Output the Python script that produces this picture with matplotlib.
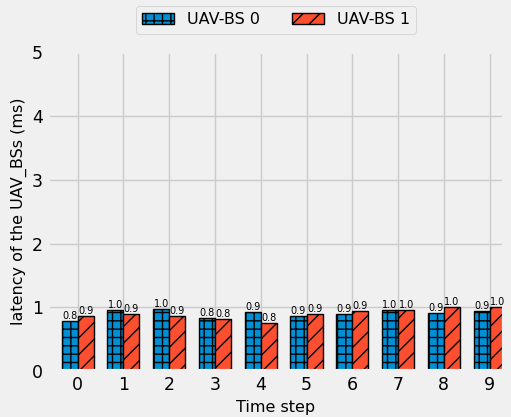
import numpy as np
import matplotlib
matplotlib.use('Agg')
import matplotlib.pyplot as plt

# SET PLOT STYLE
plt.style.use('fivethirtyeight')

# DATA
steps = np.arange(10)
tick_labels = [str(s) for s in steps]
uav0 = [0.79, 0.96, 0.98, 0.83, 0.92, 0.87, 0.89, 0.96, 0.91, 0.94]
uav1 = [0.86, 0.90, 0.87, 0.82, 0.75, 0.90, 0.94, 0.96, 1.01, 1.01]
names = ['UAV-BS 0', 'UAV-BS 1']

w = 0.35
fig = plt.figure(figsize=(5.11, 4.17), dpi=100)
ax = fig.add_axes([0.094, 0.110, 0.892, 0.765])

b0 = ax.bar(steps - w/2, uav0, w, color='#008fd5', edgecolor='black',
            hatch='++', linewidth=1, label=names[0])
b1 = ax.bar(steps + w/2, uav1, w, color='#fc4f30', edgecolor='black',
            hatch='//', linewidth=1, label=names[1])

for bars in (b0, b1):
    for r in bars:
        h = r.get_height()
        ax.text(r.get_x() + r.get_width()/2, h, '%.1f' % h,
                ha='center', va='bottom', fontsize=7)

ax.set_xticks(steps)
ax.set_xticklabels(tick_labels, fontsize=12.5)
ax.tick_params(axis='y', labelsize=12.5)
ax.set_xlim(-0.645, 9.31)
ax.set_ylim(0, 5)
ax.set_xlabel('Time step', fontsize=11.5)
ax.set_ylabel('latency of the UAV_BSs (ms)', fontsize=11.5)
ax.legend(loc='upper center', bbox_to_anchor=(0.5, 1.17), ncol=2,
          fontsize=11.5, framealpha=1)

plt.savefig('out.png', dpi=100)
